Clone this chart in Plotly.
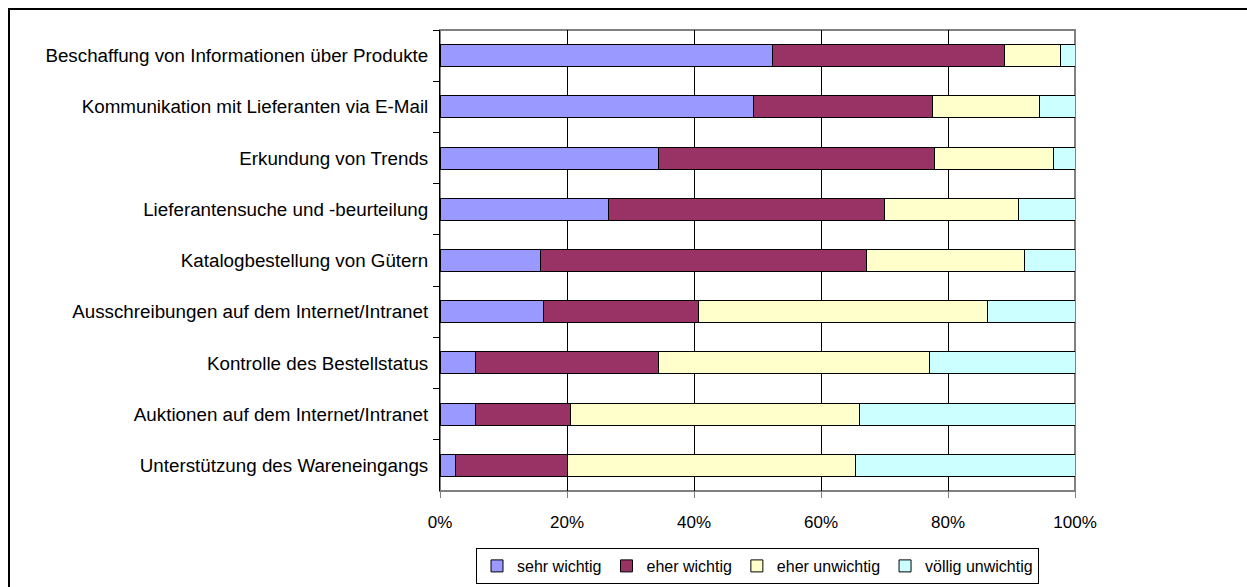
import plotly.graph_objects as go

# Survey categories (top to bottom)
categories = [
    "Beschaffung von Informationen über Produkte",
    "Kommunikation mit Lieferanten via E-Mail",
    "Erkundung von Trends",
    "Lieferantensuche und -beurteilung",
    "Katalogbestellung von Gütern",
    "Ausschreibungen auf dem Internet/Intranet",
    "Kontrolle des Bestellstatus",
    "Auktionen auf dem Internet/Intranet",
    "Unterstützung des Wareneingangs",
]

# Share of answers per category, in percent
sehr_wichtig = [52.4, 49.4, 34.4, 26.6, 15.9, 16.3, 5.6, 5.6, 2.5]
eher_wichtig = [36.5, 28.2, 43.4, 43.4, 51.3, 24.4, 28.8, 14.9, 17.6]
eher_unwichtig = [8.8, 16.8, 18.8, 21.1, 24.8, 45.5, 42.7, 45.5, 45.3]
voellig_unwichtig = [2.3, 5.6, 3.4, 8.9, 8.0, 13.8, 22.9, 34.0, 34.6]

x_ticks = [0, 20, 40, 60, 80, 100]
x_tick_labels = ["0%", "20%", "40%", "60%", "80%", "100%"]

series = [
    ("sehr wichtig", sehr_wichtig, "#9999FF"),
    ("eher wichtig", eher_wichtig, "#993366"),
    ("eher unwichtig", eher_unwichtig, "#FFFFCC"),
    ("völlig unwichtig", voellig_unwichtig, "#CCFFFF"),
]

FONT = "Liberation Sans, Arial, sans-serif"

fig = go.Figure()
for name, vals, color in series:
    fig.add_trace(go.Bar(
        y=categories, x=vals, name=name, orientation="h",
        marker=dict(color=color, line=dict(color="#000000", width=1)),
    ))

W, H = 1247, 587
L, R, T, B = 440, 1075, 30, 491

def px_x(p):
    return (p - L) / (R - L)

def px_y(p):
    return (B - p) / (B - T)

shapes = [
    # plot area frame
    dict(type="rect", xref="paper", yref="paper", x0=0, x1=1, y0=0, y1=1,
         line=dict(color="#808080", width=2), layer="below"),
    # outer chart frame
    dict(type="rect", xref="paper", yref="paper",
         x0=px_x(9), x1=px_x(1260), y0=px_y(600), y1=px_y(9),
         line=dict(color="#000000", width=2)),
]

fig.update_layout(
    width=W, height=H,
    margin=dict(l=L, r=W - R, t=T, b=H - B, autoexpand=False),
    barmode="stack",
    bargap=0.57,
    paper_bgcolor="white",
    plot_bgcolor="white",
    font=dict(family=FONT, color="#000000"),
    shapes=shapes,
    showlegend=True,
    legend=dict(
        orientation="h", x=0.5, xanchor="center", y=px_y(548), yanchor="top",
        bordercolor="#000000", borderwidth=1, font=dict(size=16, family=FONT),
        itemwidth=30, traceorder="normal", tracegroupgap=0,
    ),
    xaxis=dict(
        range=[0, 100], tickvals=x_ticks, ticktext=x_tick_labels,
        showgrid=True, gridcolor="#000000", gridwidth=1,
        ticks="outside", ticklen=6, tickcolor="#808080",
        showline=True, linecolor="#808080", linewidth=1,
        tickfont=dict(size=17, family=FONT), ticklabelstandoff=10,
        zeroline=False, fixedrange=True, automargin=False,
    ),
    yaxis=dict(
        autorange="reversed", type="category",
        ticks="outside", ticklen=6, tickson="boundaries", tickcolor="#000000",
        showline=True, linecolor="#000000", linewidth=1,
        tickfont=dict(size=18.8, family=FONT), ticklabelstandoff=7,
        showgrid=False, fixedrange=True, automargin=False,
    ),
)

fig.write_html("out.html")
